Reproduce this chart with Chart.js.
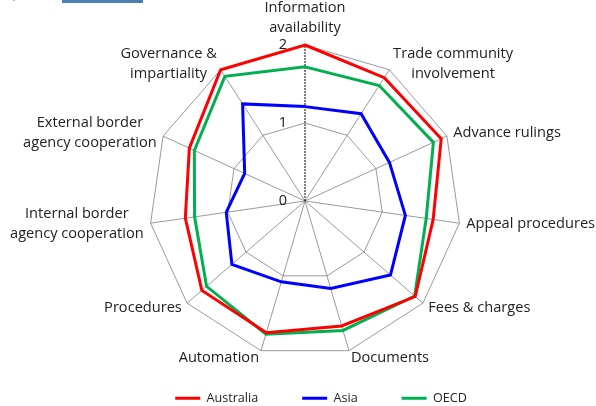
<!DOCTYPE html>
<html>
<head>
<meta charset="utf-8">
<script src="https://cdn.jsdelivr.net/npm/chart.js@4/dist/chart.umd.min.js"></script>
<style>
  body { margin: 0; background: #fff; }
  #wrap { position: relative; width: 596px; height: 406px; }
  #bar { position: absolute; left: 62px; top: 0; width: 81px; height: 3px; background: #4a7fb0; }
  #dot { position: absolute; left: 13px; top: 0; width: 2px; height: 1px; background: #9cc0e0; }
</style>
</head>
<body>
<div id="wrap">
  <canvas id="myChart" width="596" height="406"></canvas>
  <div id="bar"></div>
  <div id="dot"></div>
</div>
<script>
// Categories (multi-line labels) and series values
var categories = [
    ['Information', 'availability'],
    ['Trade community', 'involvement'],
    ['Advance rulings'],
    ['Appeal procedures'],
    ['Fees & charges'],
    ['Documents'],
    ['Automation'],
    ['Procedures'],
    ['Internal border', 'agency cooperation'],
    ['External border', 'agency cooperation'],
    ['Governance &', 'impartiality']
];
var australia = [2.00, 1.88, 1.92, 1.66, 1.87, 1.67, 1.76, 1.75, 1.55, 1.63, 2.00];
var asia      = [1.21, 1.33, 1.19, 1.30, 1.45, 1.17, 1.08, 1.24, 1.02, 0.85, 1.48];
var oecd      = [1.72, 1.76, 1.81, 1.57, 1.86, 1.73, 1.78, 1.67, 1.43, 1.56, 1.90];

var FONT = '"Open Sans", "Noto Sans", sans-serif';
var TEXT = '#222222';

// Draw the category labels around the web (Excel style: blocks, lines centred)
var labelPlugin = {
    id: 'radarLabels',
    afterDraw: function (chart) {
        var scale = chart.scales.r;
        var ctx = chart.ctx;
        var n = categories.length;
        var lineH = 20;
        ctx.save();
        ctx.font = '14.6px ' + FONT;
        ctx.fillStyle = TEXT;
        ctx.textAlign = 'center';
        ctx.textBaseline = 'middle';
        for (var i = 0; i < n; i++) {
            var lines = categories[i];
            var pos = scale.getPointPosition(i, scale.drawingArea + 7);
            var s = Math.sin(i * 2 * Math.PI / n);
            var blockW = 0;
            lines.forEach(function (l) { blockW = Math.max(blockW, ctx.measureText(l).width); });
            var blockH = lines.length * lineH;
            var cx, y0;
            if (Math.abs(s) < 0.1) {
                cx = pos.x;
                y0 = pos.y - blockH + lineH / 2;
            } else {
                cx = pos.x + (s > 0 ? 1 : -1) * blockW / 2;
                y0 = pos.y - blockH / 2 + lineH / 2;
            }
            lines.forEach(function (l, k) { ctx.fillText(l, cx, y0 + k * lineH); });
        }
        // tick labels, left of the vertical axis
        ctx.textAlign = 'right';
        scale.ticks.forEach(function (t) {
            var d = scale.getDistanceFromCenterForValue(t.value);
            ctx.fillText(t.label, scale.xCenter - 18, scale.yCenter - d);
        });
        ctx.restore();
    }
};

// Put the legend row near the bottom edge
var legendPlugin = {
    id: 'legendPlace',
    afterLayout: function (chart) {
        var lg = chart.legend;
        var pad = lg.options.labels.padding;
        var h = lg.height;
        lg.top = 398 - pad - 6;
        lg.bottom = lg.top + h;
        lg.left += 23;
        lg.right += 23;
    }
};

var ctx = document.getElementById('myChart').getContext('2d');
var myChart = new Chart(ctx, {
    type: 'radar',
    data: {
        labels: categories,
        datasets: [
            { label: 'Australia', data: australia, borderColor: '#ff0000', backgroundColor: '#ff0000', borderWidth: 3 },
            { label: 'Asia', data: asia, borderColor: '#0000ff', backgroundColor: '#0000ff', borderWidth: 3 },
            { label: 'OECD', data: oecd, borderColor: '#00b050', backgroundColor: '#00b050', borderWidth: 3 }
        ]
    },
    options: {
        responsive: false,
        animation: false,
        devicePixelRatio: 1,
        elements: {
            line: { borderWidth: 3, tension: 0, fill: false },
            point: { radius: 0, hoverRadius: 0 }
        },
        scales: {
            r: {
                min: 0,
                max: 2,
                ticks: { stepSize: 1, display: false },
                grid: { color: '#808080', lineWidth: 0.8 },
                angleLines: {
                    color: function (c) { return c.index === 0 ? '#000000' : '#808080'; },
                    lineWidth: function (c) { return c.index === 0 ? 1 : 0.8; },
                    borderDash: function (c) { return c.index === 0 ? [2, 1] : []; }
                },
                pointLabels: { display: false },
                afterFit: function (scale) {
                    scale.xCenter = 305;
                    scale.yCenter = 201;
                    scale.drawingArea = 156;
                }
            }
        },
        plugins: {
            legend: {
                position: 'bottom',
                labels: {
                    usePointStyle: true,
                    pointStyle: 'line',
                    pointStyleWidth: 25,
                    padding: 44,
                    color: TEXT,
                    font: { family: FONT, size: 12.6 }
                }
            },
            tooltip: { enabled: false }
        }
    },
    plugins: [labelPlugin, legendPlugin]
});
</script>
</body>
</html>
